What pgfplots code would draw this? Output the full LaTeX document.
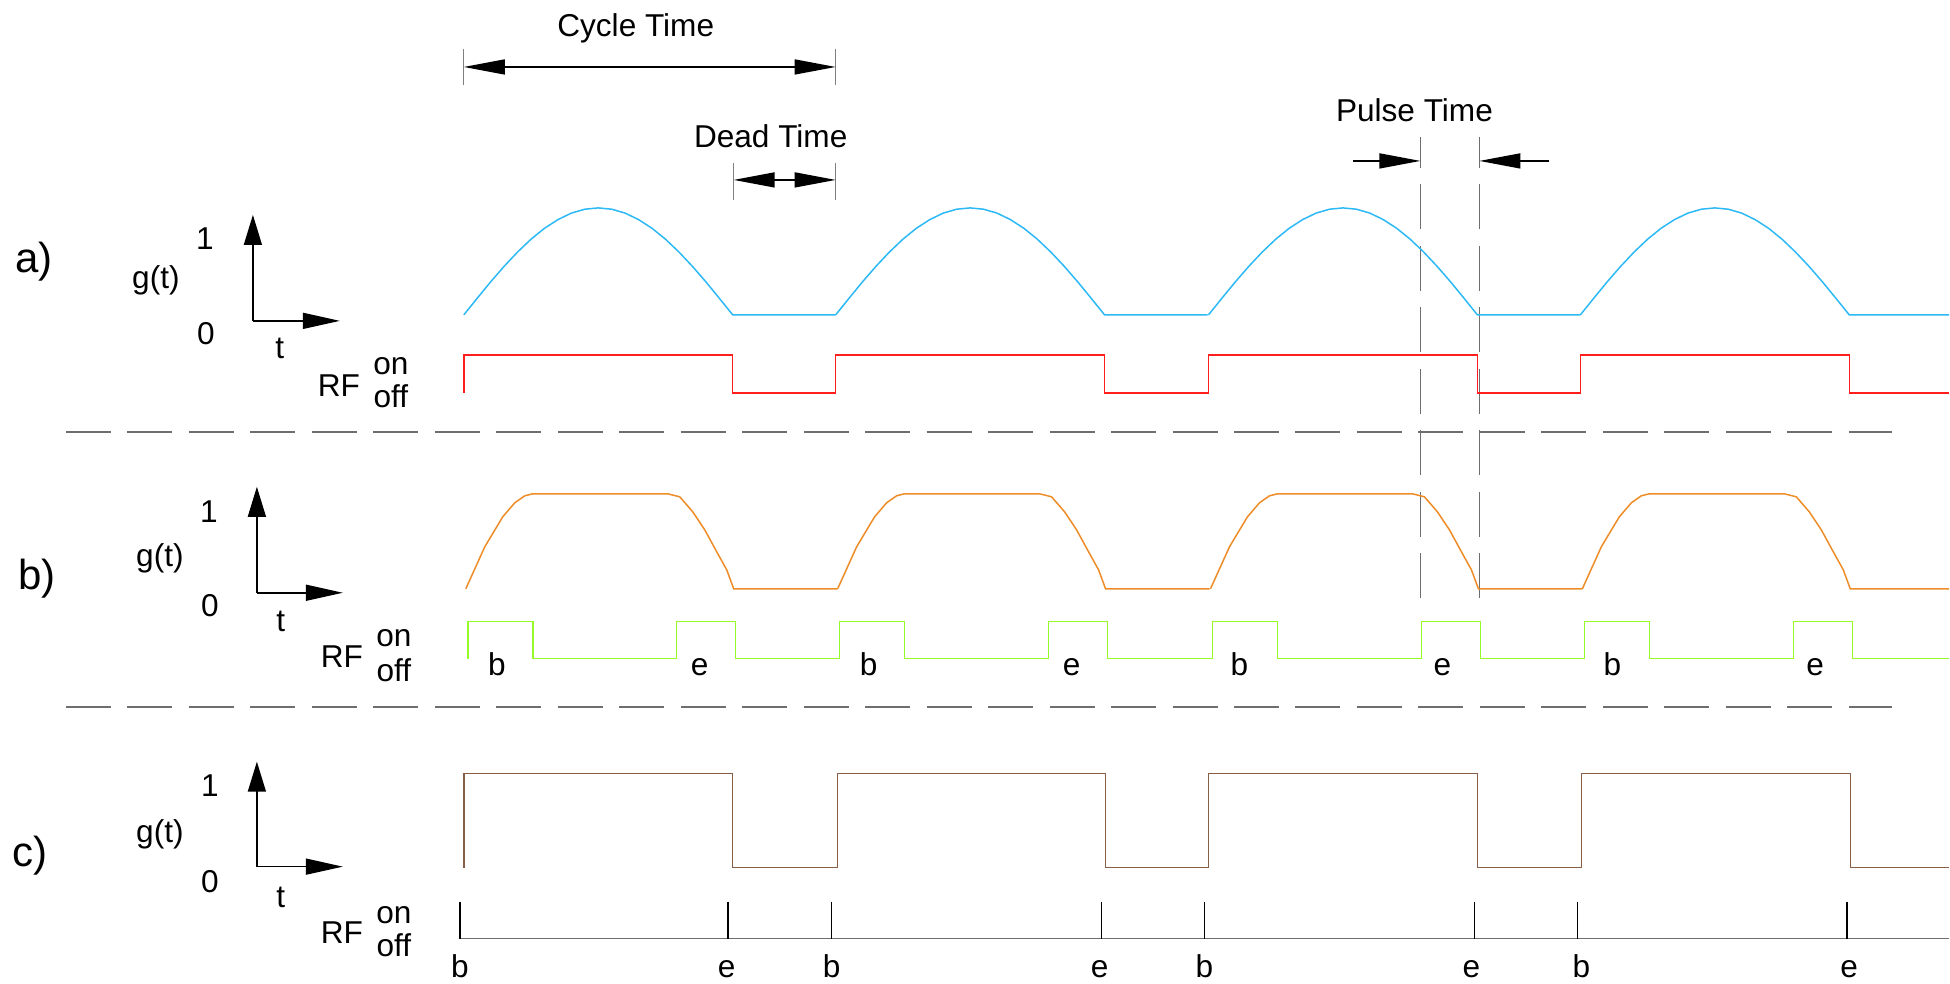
\documentclass[border=0pt]{standalone}
\usepackage{pgfplots}
\pgfplotsset{compat=1.18}
\usepackage{pgfplotstable}
\usepackage{fontspec}
\setmainfont{Liberation Sans}
\usetikzlibrary{arrows.meta}
\definecolor{sinec}{RGB}{45,185,245}
\definecolor{rfred}{RGB}{255,30,30}
\definecolor{orng}{RGB}{238,140,40}
\definecolor{grn}{RGB}{150,250,40}
\definecolor{brwn}{RGB}{135,95,70}
\definecolor{dgray}{RGB}{110,110,110}
\tikzset{
  lbl/.style={font=\fontsize{15.8pt}{18pt}\selectfont, inner sep=0pt, anchor=base},
  big/.style={font=\fontsize{21pt}{24pt}\selectfont, inner sep=0pt, anchor=base},
}
% one hump of the sine pulse (x relative to cycle start, y in picture pixels)
\pgfplotstableread{
x y
0 315
13.45 298.3
26.9 281.9
40.35 266.4
53.8 252.1
67.25 239.3
80.7 228.4
94.15 219.7
107.6 213.2
121.05 209.3
134.5 208
147.95 209.3
161.4 213.2
174.85 219.7
188.3 228.4
201.75 239.3
215.2 252.1
228.65 266.4
242.1 281.9
255.55 298.3
269 315
372 315
}\sinecycle
% one cycle of the trapezoid-like pulse
\pgfplotstableread{
x y
2 589
21 547
39 517
51 503
61 496
69 494
204 494
216 497
229 512
241 530
253 552
263 570
270 589
374 589
}\trapcycle
\begin{document}
\begin{tikzpicture}
\begin{axis}[width=975pt,height=492pt,scale only axis,
  xmin=0,xmax=1950,ymin=0,ymax=984,y dir=reverse,
  hide axis,clip=false,no markers]
\path (axis cs:0,0) rectangle (axis cs:1950,984);

% ---------- dimension annotations ----------
\addplot[gray,line width=0.5pt] coordinates {(464,49)(464,85)};
\addplot[gray,line width=0.5pt] coordinates {(836,49)(836,85)};
\addplot[black,line width=0.75pt,arrows={Triangle[length=20.5pt,width=7.5pt]-Triangle[length=20.5pt,width=7.5pt]}] coordinates {(464,67)(836,67)};
\node[lbl] at (axis cs:636,37) {Cycle Time};

\addplot[gray,line width=0.5pt] coordinates {(734,163)(734,200)};
\addplot[gray,line width=0.5pt] coordinates {(836,163)(836,200)};
\addplot[black,line width=0.75pt,arrows={Triangle[length=20.5pt,width=7.5pt]-Triangle[length=20.5pt,width=7.5pt]}] coordinates {(734,180)(836,180)};
\node[lbl] at (axis cs:771,148) {Dead Time};

\addplot[black,line width=0.75pt,arrows={-Triangle[length=20.5pt,width=7.5pt]}] coordinates {(1354,161)(1421,161)};
\addplot[black,line width=0.75pt,arrows={-Triangle[length=20.5pt,width=7.5pt]}] coordinates {(1550,161)(1480,161)};
\node[lbl] at (axis cs:1415,122) {Pulse Time};
\addplot[dgray,line width=0.7pt,dash pattern=on 22.5pt off 8.25pt,dash phase=7pt] coordinates {(1421,137)(1421,598)};
\addplot[dgray,line width=0.7pt,dash pattern=on 22.5pt off 8.25pt,dash phase=7pt] coordinates {(1480,137)(1480,598)};

% ---------- separators ----------
\addplot[dgray,line width=0.9pt,dash pattern=on 22.5pt off 8.25pt] coordinates {(66,432)(1893,432)};
\addplot[dgray,line width=0.9pt,dash pattern=on 22.5pt off 8.25pt] coordinates {(66,707)(1893,707)};

% ---------- panel a ----------
\node[big] at (axis cs:34,273) {a)};
\node[lbl] at (axis cs:156,289) {g(t)};
\node[lbl] at (axis cs:205,250) {1};
\node[lbl] at (axis cs:206,345) {0};
\node[lbl] at (axis cs:280,359) {t};
\node[lbl] at (axis cs:339,397) {RF};
\node[lbl] at (axis cs:391,375) {on};
\node[lbl] at (axis cs:391,408) {off};
\addplot[black,line width=0.75pt,arrows={-Triangle[length=15pt,width=9pt]}] coordinates {(253,321)(253,215)};
\addplot[black,line width=0.75pt,arrows={-Triangle[length=18.5pt,width=8pt]}] coordinates {(253,321)(340,321)};

\addplot[sinec,line width=0.75pt] table[x expr={min(\thisrow{x}+464,1950)},y=y] {\sinecycle};
\addplot[sinec,line width=0.75pt] table[x expr={min(\thisrow{x}+836,1950)},y=y] {\sinecycle};
\addplot[sinec,line width=0.75pt] table[x expr={min(\thisrow{x}+1209,1950)},y=y] {\sinecycle};
\addplot[sinec,line width=0.75pt] table[x expr={min(\thisrow{x}+1581,1950)},y=y] {\sinecycle};

\addplot[rfred,line width=0.75pt] coordinates {
(464,393)(464,355)(733,355)(733,393)(836,393)(836,355)(1105,355)(1105,393)
(1209,393)(1209,355)(1478,355)(1478,393)(1581,393)(1581,355)(1850,355)(1850,393)(1950,393)};

% ---------- panel b ----------
\node[big] at (axis cs:37,590) {b)};
\node[lbl] at (axis cs:160,567) {g(t)};
\node[lbl] at (axis cs:209,523) {1};
\node[lbl] at (axis cs:210,617) {0};
\node[lbl] at (axis cs:281,632) {t};
\node[lbl] at (axis cs:342,668) {RF};
\node[lbl] at (axis cs:394,647) {on};
\node[lbl] at (axis cs:394,682) {off};
\addplot[black,line width=0.75pt,arrows={-Triangle[length=15pt,width=9pt]}] coordinates {(257,593)(257,487)};
\addplot[black,line width=0.75pt,arrows={-Triangle[length=18.5pt,width=8pt]}] coordinates {(257,593)(343,593)};

\addplot[orng,line width=0.75pt] table[x expr={min(\thisrow{x}+464,1950)},y=y] {\trapcycle};
\addplot[orng,line width=0.75pt] table[x expr={min(\thisrow{x}+836,1950)},y=y] {\trapcycle};
\addplot[orng,line width=0.75pt] table[x expr={min(\thisrow{x}+1209,1950)},y=y] {\trapcycle};
\addplot[orng,line width=0.75pt] table[x expr={min(\thisrow{x}+1581,1950)},y=y] {\trapcycle};

\addplot[grn,line width=0.75pt] coordinates {
(468,659)(468,622)(533,622)(533,659)(677,659)(677,622)(736,622)(736,659)
(840,659)(840,622)(905,622)(905,659)(1049,659)(1049,622)(1108,622)(1108,659)
(1213,659)(1213,622)(1278,622)(1278,659)(1422,659)(1422,622)(1481,622)(1481,659)
(1585,659)(1585,622)(1650,622)(1650,659)(1794,659)(1794,622)(1853,622)(1853,659)(1950,659)};
\node[lbl] at (axis cs:497,676) {b};
\node[lbl] at (axis cs:700,676) {e};
\node[lbl] at (axis cs:869,676) {b};
\node[lbl] at (axis cs:1072,676) {e};
\node[lbl] at (axis cs:1240,676) {b};
\node[lbl] at (axis cs:1443,676) {e};
\node[lbl] at (axis cs:1613,676) {b};
\node[lbl] at (axis cs:1816,676) {e};

% ---------- panel c ----------
\node[big] at (axis cs:30,867) {c)};
\node[lbl] at (axis cs:160,843) {g(t)};
\node[lbl] at (axis cs:210,797) {1};
\node[lbl] at (axis cs:210,893) {0};
\node[lbl] at (axis cs:281,908) {t};
\node[lbl] at (axis cs:342,944) {RF};
\node[lbl] at (axis cs:394,924) {on};
\node[lbl] at (axis cs:394,957) {off};
\addplot[black,line width=0.75pt,arrows={-Triangle[length=15pt,width=9pt]}] coordinates {(257,867)(257,762)};
\addplot[black,line width=0.75pt,arrows={-Triangle[length=18.5pt,width=8pt]}] coordinates {(257,867)(343,867)};

\addplot[brwn,line width=0.75pt] coordinates {
(464,868)(464,774)(733,774)(733,868)(838,868)(838,774)(1106,774)(1106,868)
(1209,868)(1209,774)(1478,774)(1478,868)(1582,868)(1582,774)(1851,774)(1851,868)(1950,868)};

\addplot[dgray,line width=0.8pt] coordinates {(459,939)(1950,939)};
\addplot[black,line width=0.8pt] coordinates {(460,902)(460,939)};
\addplot[black,line width=0.8pt] coordinates {(728,902)(728,939)};
\addplot[black,line width=0.8pt] coordinates {(832,902)(832,939)};
\addplot[black,line width=0.8pt] coordinates {(1102,902)(1102,939)};
\addplot[black,line width=0.8pt] coordinates {(1205,902)(1205,939)};
\addplot[black,line width=0.8pt] coordinates {(1475,902)(1475,939)};
\addplot[black,line width=0.8pt] coordinates {(1578,902)(1578,939)};
\addplot[black,line width=0.8pt] coordinates {(1848,902)(1848,939)};
\node[lbl] at (axis cs:460,978) {b};
\node[lbl] at (axis cs:727,978) {e};
\node[lbl] at (axis cs:832,978) {b};
\node[lbl] at (axis cs:1100,978) {e};
\node[lbl] at (axis cs:1205,978) {b};
\node[lbl] at (axis cs:1472,978) {e};
\node[lbl] at (axis cs:1582,978) {b};
\node[lbl] at (axis cs:1850,978) {e};
\end{axis}
\end{tikzpicture}
\end{document}
